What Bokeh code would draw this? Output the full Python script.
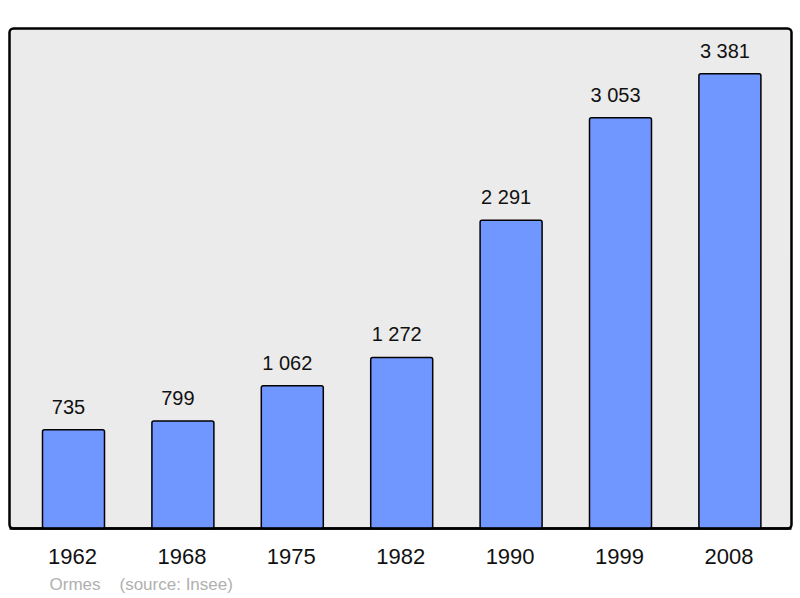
from bokeh.plotting import figure
from bokeh.models import Range1d, ColumnDataSource
from bokeh.core.properties import value
from bokeh.embed import file_html
from bokeh.resources import INLINE

# ---- data ----
years = ["1962", "1968", "1975", "1982", "1990", "1999", "2008"]
population = [735, 799, 1062, 1272, 2291, 3053, 3381]
value_labels = ["735", "799", "1 062", "1 272", "2 291", "3 053", "3 381"]
commune = "Ormes"
source_note = "(source: Insee)"

# ---- layout constants (page pixels) ----
W, H = 800, 596
OFF = 0                      # figure origin on the page
X0, DX = 73.0, 109.4         # centre of first bar, spacing
Y0, SY = 528.0, 0.1345       # baseline of bars, px per inhabitant
BAR_W_PX = 62

def xd(px):
    return (px - X0) / DX

def yd(py):
    return (Y0 - py) / SY

FONT = value("Liberation Sans")

p = figure(width=W, height=H, output_backend="svg", toolbar_location=None,
           x_range=Range1d(xd(OFF), xd(OFF + W)),
           y_range=Range1d(yd(OFF + H), yd(OFF)),
           min_border=0, min_border_left=0, min_border_right=0,
           min_border_top=0, min_border_bottom=0)
p.axis.visible = False
p.grid.visible = False
p.outline_line_color = None
p.background_fill_color = "white"
p.border_fill_color = "white"

# plot area (grey panel with black frame)
p.quad(left=[xd(9)], right=[xd(791)], bottom=[yd(528)], top=[yd(28)],
       fill_color="#ebebeb", line_color="black", line_width=2.5,
       border_radius=4)

idx = list(range(len(years)))
src = ColumnDataSource(dict(x=idx, pop=population, lab=value_labels, year=years))

p.vbar(x="x", top="pop", bottom=0, width=BAR_W_PX / DX, source=src,
       fill_color="#7096ff", line_color="black", line_width=1.5,
       border_radius=2)

# redraw bottom frame line on top of bars
p.segment(x0=[xd(9)], x1=[xd(791)], y0=[0], y1=[0], line_color="black", line_width=2.5)

# value labels above bars
p.text(x="x", y="pop", text="lab", source=src, text_align="center",
       text_baseline="middle", x_offset=-5, y_offset=-23, text_font=FONT,
       text_font_size="20px", text_color="#111111")

# year labels below the panel
p.text(x="x", y=yd(556), text="year", source=src, text_align="center",
       text_baseline="middle", x_offset=-1, text_font=FONT, text_font_size="22px",
       text_color="#111111")

# source note
p.text(x=[xd(49)], y=[yd(584)], text=[commune], text_align="left",
       text_baseline="middle", text_font=FONT, text_font_size="17px",
       text_color="#b0b0b0")
p.text(x=[xd(119)], y=[yd(584)], text=[source_note], text_align="left",
       text_baseline="middle", text_font=FONT, text_font_size="17px",
       text_color="#b0b0b0")

open("out.html", "w").write(file_html(p, INLINE))
